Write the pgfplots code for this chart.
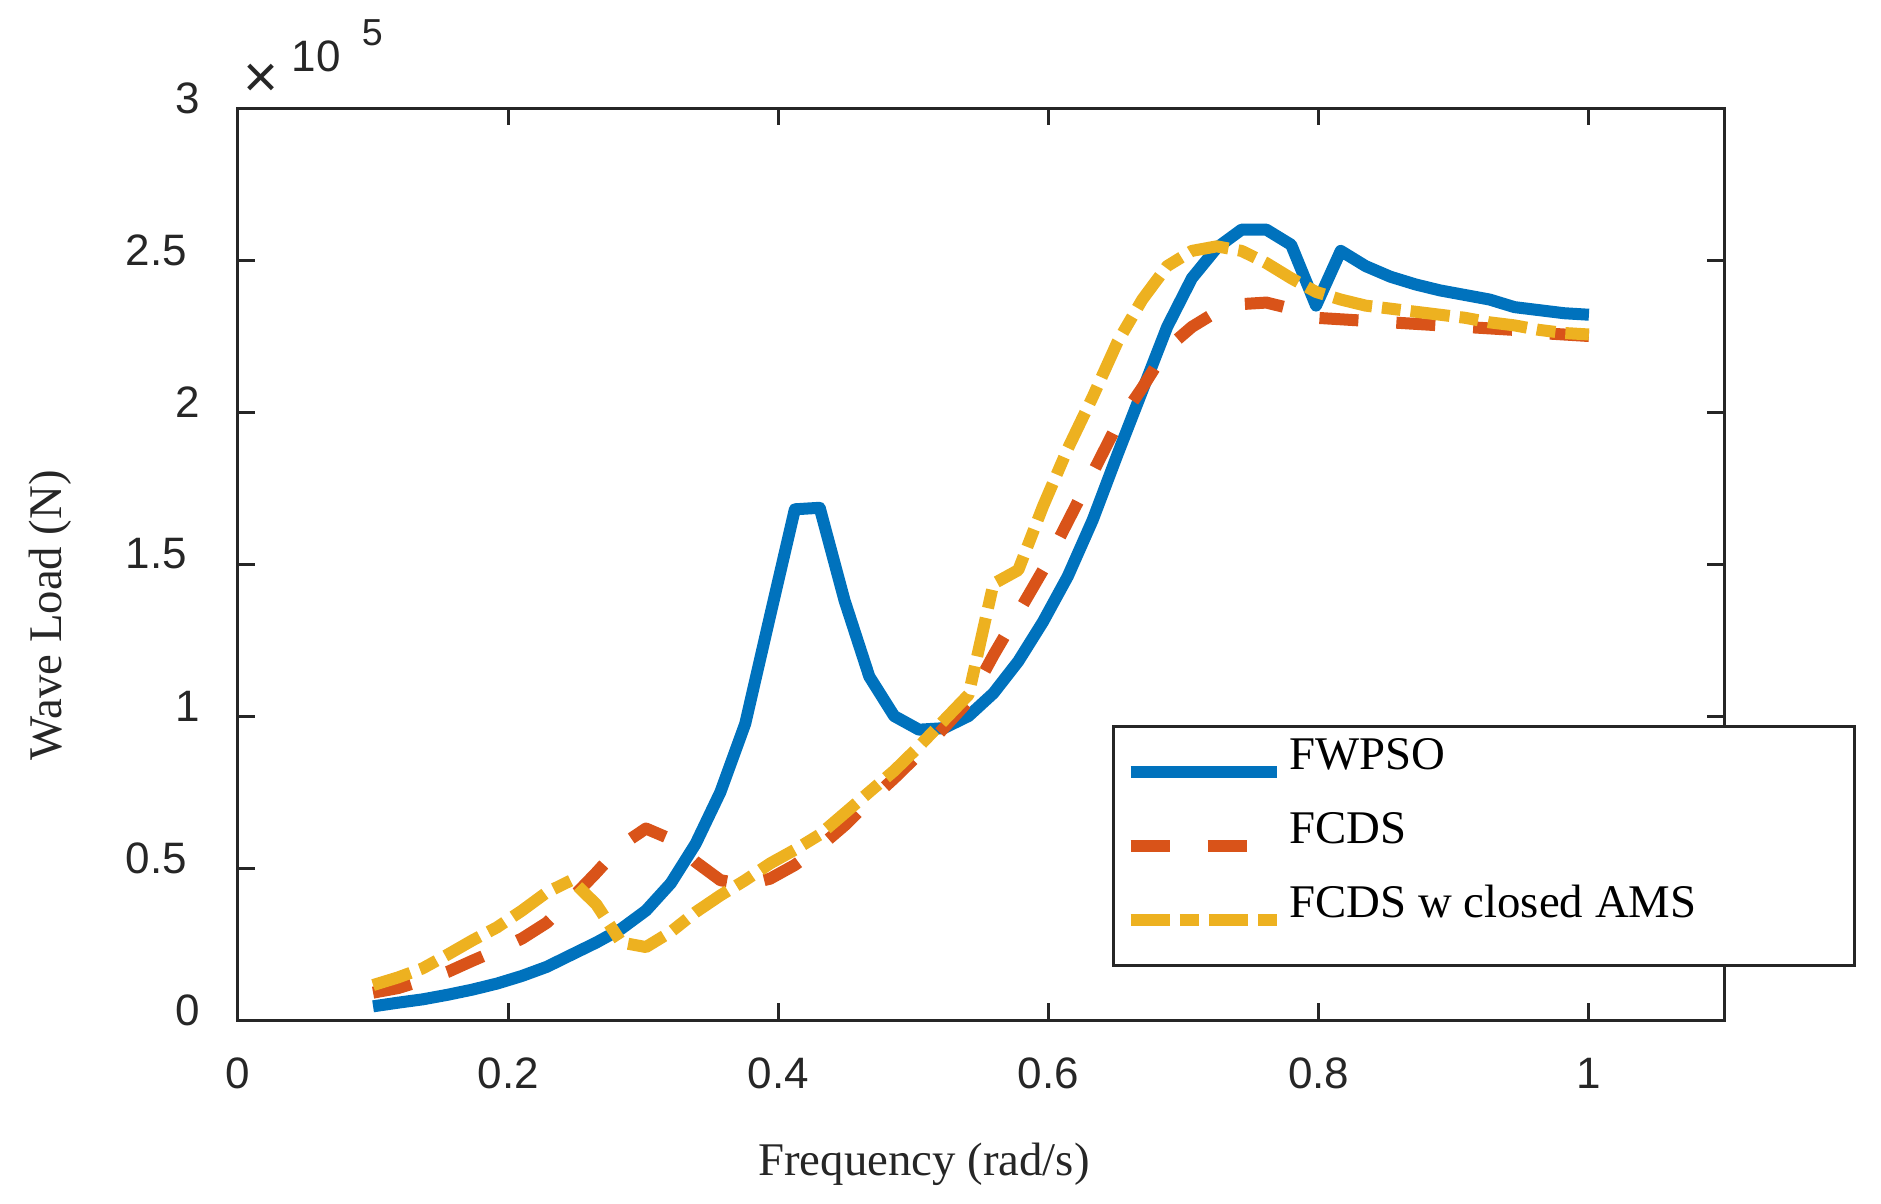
\documentclass[border=0pt]{standalone}
\usepackage{pgfplots}
\usepackage{pgfplotstable}
\pgfplotsset{compat=1.18}
\usepackage{fontspec}
\setmainfont{Liberation Serif}
\newfontfamily\ticksans{Liberation Sans}

\definecolor{mblue}{rgb}{0,0.447,0.741}
\definecolor{morange}{rgb}{0.85,0.325,0.098}
\definecolor{myellow}{rgb}{0.929,0.694,0.125}
\definecolor{axgray}{RGB}{38,38,38}

% wave load in units of 1e5 N
\pgfplotstableread{
x      fwpso  fcds   ams
0.1000 0.045  0.090  0.115
0.1184 0.057  0.105  0.140
0.1367 0.068  0.130  0.170
0.1551 0.083  0.158  0.215
0.1735 0.100  0.195  0.262
0.1918 0.120  0.230  0.305
0.2102 0.145  0.268  0.360
0.2286 0.175  0.320  0.420
0.2469 0.215  0.400  0.460
0.2653 0.255  0.485  0.380
0.2837 0.300  0.575  0.255
0.3020 0.360  0.630  0.240
0.3204 0.450  0.595  0.290
0.3388 0.580  0.520  0.355
0.3571 0.750  0.460  0.410
0.3755 0.975  0.445  0.460
0.3939 1.330  0.465  0.515
0.4122 1.680  0.510  0.560
0.4306 1.685  0.570  0.610
0.4490 1.380  0.640  0.680
0.4673 1.130  0.720  0.750
0.4857 1.000  0.795  0.820
0.5041 0.955  0.875  0.900
0.5224 0.960  0.960  0.985
0.5408 1.000  1.050  1.070
0.5592 1.075  1.200  1.435
0.5776 1.180  1.340  1.480
0.5959 1.310  1.480  1.690
0.6143 1.460  1.640  1.880
0.6327 1.645  1.800  2.050
0.6510 1.860  1.960  2.230
0.6694 2.070  2.080  2.370
0.6878 2.280  2.210  2.480
0.7061 2.440  2.280  2.530
0.7245 2.540  2.330  2.545
0.7429 2.600  2.355  2.530
0.7612 2.600  2.360  2.490
0.7796 2.550  2.340  2.440
0.7980 2.350  2.310  2.395
0.8163 2.530  2.305  2.370
0.8347 2.480  2.300  2.350
0.8531 2.445  2.295  2.340
0.8714 2.420  2.290  2.330
0.8898 2.400  2.285  2.320
0.9082 2.385  2.280  2.310
0.9265 2.370  2.275  2.295
0.9449 2.345  2.270  2.285
0.9633 2.335  2.260  2.270
0.9816 2.325  2.255  2.260
1.0000 2.320  2.250  2.255
}\loadtable

\newcommand{\dsp}{\rule{3.25pt}{0pt}}

\begin{document}
\begin{tikzpicture}
\useasboundingbox (-59.5pt,-45.75pt) rectangle (410.75pt,255pt);
\begin{axis}[
  at={(0pt,0pt)}, anchor=south west,
  scale only axis, width=371.5pt, height=228pt,
  xmin=0, xmax=1.1, ymin=0, ymax=3,
  clip=false,
  xtick={0,0.2,0.4,0.6,0.8,1},
  xticklabels={0,0.2,0.4,0.6,0.8,1},
  ytick={0,0.5,1,1.5,2,2.5,3},
  yticklabels={0,0.5\dsp,1,1.5\dsp,2,2.5\dsp,3},
  scaled ticks=false,
  tick align=inside, tick pos=both,
  major tick length=4.2pt,
  axis line style={axgray, line width=0.75pt},
  every tick/.style={axgray, line width=0.75pt},
  tick label style={text=axgray, font=\ticksans\fontsize{11}{13}\selectfont},
  xticklabel style={yshift=-6pt},
  yticklabel style={xshift=-6pt, yshift=2.5pt},
  xlabel={Frequency (rad/s)},
  ylabel={Wave Load (N)},
  label style={font=\fontsize{11.7}{14}\selectfont, text=axgray},
  xlabel style={at={(rel axis cs:0.4616,0)}, anchor=center, yshift=-36pt},
  ylabel style={at={(rel axis cs:0,0.444)}, anchor=center, yshift=47pt},
  legend style={
    at={(rel axis cs:0.5882,0.0581)}, anchor=south west,
    draw=axgray, line width=0.75pt, fill=white,
    inner xsep=2.75pt, inner ysep=1.75pt,
    row sep=7.4pt, column sep=1.75pt,
    cells={anchor=base west},
    nodes={inner sep=0pt, text height=, text depth=},
    font=\fontsize{11.7}{14}\selectfont,
  },
  legend image code/.code={\draw[#1] (0pt,-0.6pt) -- (36.5pt,-0.6pt);},
]
\addplot[mblue, line width=3pt, line join=round] table[x=x, y=fwpso] {\loadtable};
\addplot[morange, line width=3pt, line join=round, dash pattern=on 9.75pt off 9.5pt] table[x=x, y=fcds] {\loadtable};
\addplot[myellow, line width=3pt, line join=round, dash pattern=on 9.85pt off 2.5pt on 4.7pt off 2.5pt] table[x=x, y=ams] {\loadtable};
\legend{\makebox[138.5pt][l]{\rule[-2pt]{0pt}{11pt}FWPSO},
        \makebox[138.5pt][l]{\rule[-2pt]{0pt}{11pt}FCDS},
        \makebox[138.5pt][l]{\rule[-10.25pt]{0pt}{19.25pt}FCDS w closed AMS}}
\node[anchor=base west, inner sep=0pt, text=axgray, font=\ticksans\fontsize{11}{13}\selectfont,
      xshift=1.25pt, yshift=9.25pt] at (rel axis cs:0,1)
  {\raisebox{-6.5pt}{\fontsize{15}{15}\selectfont ×}\hspace{3.25pt}10\hspace{5.3pt}\raisebox{6.5pt}{\fontsize{9.4}{10}\selectfont 5}};
\end{axis}
\end{tikzpicture}
\end{document}
